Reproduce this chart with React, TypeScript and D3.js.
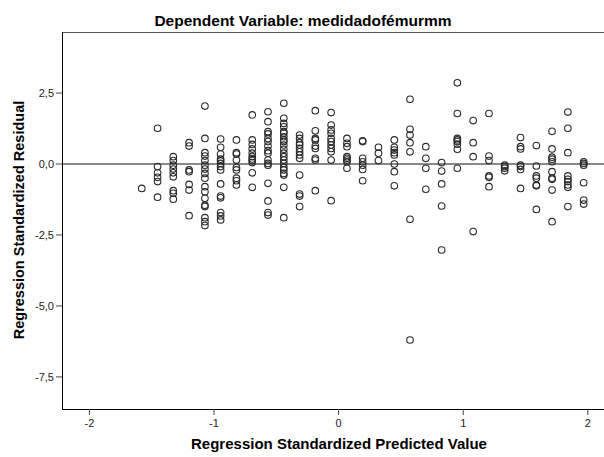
import React from "react";
import * as d3 from "d3";

const predictedLevels = [
  -1.58, -1.453, -1.327, -1.2, -1.073, -0.947, -0.82, -0.693, -0.567, -0.44,
  -0.313, -0.187, -0.06, 0.067, 0.193, 0.32, 0.447, 0.573, 0.7, 0.827, 0.953,
  1.08, 1.207, 1.333, 1.46, 1.587, 1.713, 1.84, 1.967,
];

const residualsByLevel: number[][] = [
  [-0.86],
  [1.26, -0.09, -0.31, -0.47, -0.62, -1.17],
  [0.26, 0.12, -0.04, -0.18, -0.31, -0.45, -0.94, -1.03, -1.24],
  [0.75, 0.63, -0.21, -0.27, -0.72, -0.92, -1.82],
  [2.04, 0.9, 0.4, 0.28, 0.12, -0.04, -0.18, -0.33, -0.5, -0.8, -0.98, -1.21, -1.45, -1.5, -1.89, -2.03, -2.17],
  [0.88, 0.59, 0.35, 0.17, 0.11, 0.02, -0.09, -0.21, -0.7, -1.13, -1.19, -1.71, -1.83, -1.97],
  [0.85, 0.4, 0.35, 0.14, -0.12, -0.21, -0.5, -0.59, -0.74],
  [1.73, 0.85, 0.69, 0.53, 0.38, 0.26, 0.18, 0.12, 0.05, -0.31, -0.82],
  [1.84, 1.49, 1.14, 1.06, 0.9, 0.79, 0.63, 0.47, 0.38, 0.14, 0.02, -0.04, -0.68, -1.3, -1.71, -1.8],
  [2.14, 1.61, 1.43, 1.31, 1.14, 1.08, 0.96, 0.85, 0.79, 0.67, 0.52, 0.38, 0.26, 0.14, 0.02, -0.12, -0.21, -0.33, -0.39, -0.82, -1.89],
  [1.02, 0.9, 0.75, 0.67, 0.55, 0.43, 0.32, 0.2, -0.39, -1.06, -1.13, -1.5],
  [1.88, 1.17, 0.9, 0.85, 0.63, 0.55, 0.2, 0.14, -0.94],
  [1.81, 1.37, 1.2, 1.08, 0.9, 0.79, 0.67, 0.55, 0.43, 0.14, -1.29],
  [0.9, 0.73, 0.61, 0.26, 0.2, 0.14, 0.08, -0.15],
  [0.82, 0.79, 0.2, 0.08, -0.04, -0.19, -0.59],
  [0.59, 0.38, 0.12],
  [0.85, 0.59, 0.49, 0.4, 0.32, 0.0, -0.27, -0.77],
  [2.28, 1.22, 1.02, 0.75, 0.43, -1.95, -6.2],
  [0.61, 0.2, -0.15, -0.89],
  [0.05, -0.25, -0.7, -1.48, -3.03],
  [2.86, 1.78, 0.9, 0.85, 0.79, 0.7, 0.52, -0.15],
  [1.53, 0.75, 0.26, -2.38],
  [1.78, 0.28, 0.12, -0.42, -0.47, -0.8],
  [-0.04, -0.09, -0.15, -0.24],
  [0.93, 0.61, 0.53, -0.04, -0.09, -0.19, -0.86],
  [0.65, -0.07, -0.42, -0.5, -0.74, -0.77, -1.6],
  [1.15, 0.53, 0.24, 0.17, 0.08, -0.27, -0.5, -0.54, -0.92, -2.03],
  [1.83, 1.26, 0.4, -0.42, -0.54, -0.62, -0.74, -0.82, -1.5],
  [0.08, 0.02, -0.04, -0.66, -1.27, -1.41],
];

const xTicks = [-2, -1, 0, 1, 2];
const yTicks = [2.5, 0, -2.5, -5, -7.5];
const titleText = "Dependent Variable: medidadofémurmm";
const xTitle = "Regression Standardized Predicted Value";
const yTitle = "Regression Standardized Residual";

const W = 604;
const H = 457;
const left = 62;
const right = 604;
const top = 32;
const bottom = 409;

export default function App() {
  const x = d3.scaleLinear().domain([-2.22, 2.13]).range([left, right]);
  const y = d3.scaleLinear().domain([-8.63, 4.65]).range([bottom, top]);
  const fmtY = (v: number) => d3.format(".1f")(v).replace(".", ",").replace("−", "-");
  const points = predictedLevels.flatMap((p, i) =>
    residualsByLevel[i].map((r) => ({ p, r }))
  );
  const font = "'Liberation Sans', Arial, sans-serif";
  return (
    <svg
      width={W}
      height={H}
      style={{ position: "absolute", left: 0, top: 0, background: "#fff" }}
      fontFamily={font}
    >
      <rect x={0} y={0} width={W} height={H} fill="#fff" />
      <text x={303} y={26} textAnchor="middle" fontSize={15.5} fontWeight="bold" fill="#000">
        {titleText}
      </text>
      {/* frame */}
      <line x1={left} x2={W + 2} y1={top + 0.5} y2={top + 0.5} stroke="#555" strokeWidth={1.2} />
      {/* reference line at 0 */}
      <line x1={left} x2={W + 2} y1={y(0)} y2={y(0)} stroke="#888" strokeWidth={2} />
      {/* points */}
      {points.map((d, i) => (
        <circle key={i} cx={x(d.p)} cy={y(d.r)} r={3.3} fill="none" stroke="#2a2a2a" strokeWidth={1.1} />
      ))}
      {/* axes */}
      <line x1={left + 0.5} x2={left + 0.5} y1={top} y2={bottom + 0.5} stroke="#000" strokeWidth={1} />
      <line x1={left} x2={W + 2} y1={bottom + 0.5} y2={bottom + 0.5} stroke="#000" strokeWidth={1} />
      {yTicks.map((t) => (
        <g key={t}>
          <line x1={left - 6} x2={left} y1={y(t)} y2={y(t)} stroke="#444" strokeWidth={1} />
          <text x={54} y={y(t)} dy="0.35em" textAnchor="end" fontSize={11} fill="#222">
            {fmtY(t)}
          </text>
        </g>
      ))}
      {xTicks.map((t) => (
        <g key={t}>
          <line x1={x(t)} x2={x(t)} y1={bottom} y2={bottom + 6} stroke="#444" strokeWidth={1} />
          <text x={x(t)} y={427} textAnchor="middle" fontSize={11} fill="#222">
            {d3.format("d")(t).replace("−", "-")}
          </text>
        </g>
      ))}
      <text x={339} y={449} textAnchor="middle" fontSize={15} fontWeight="bold" fill="#000">
        {xTitle}
      </text>
      <text
        transform={`translate(24, 220) rotate(-90)`}
        textAnchor="middle"
        fontSize={14.5}
        fontWeight="bold"
        fill="#000"
      >
        {yTitle}
      </text>
    </svg>
  );
}
